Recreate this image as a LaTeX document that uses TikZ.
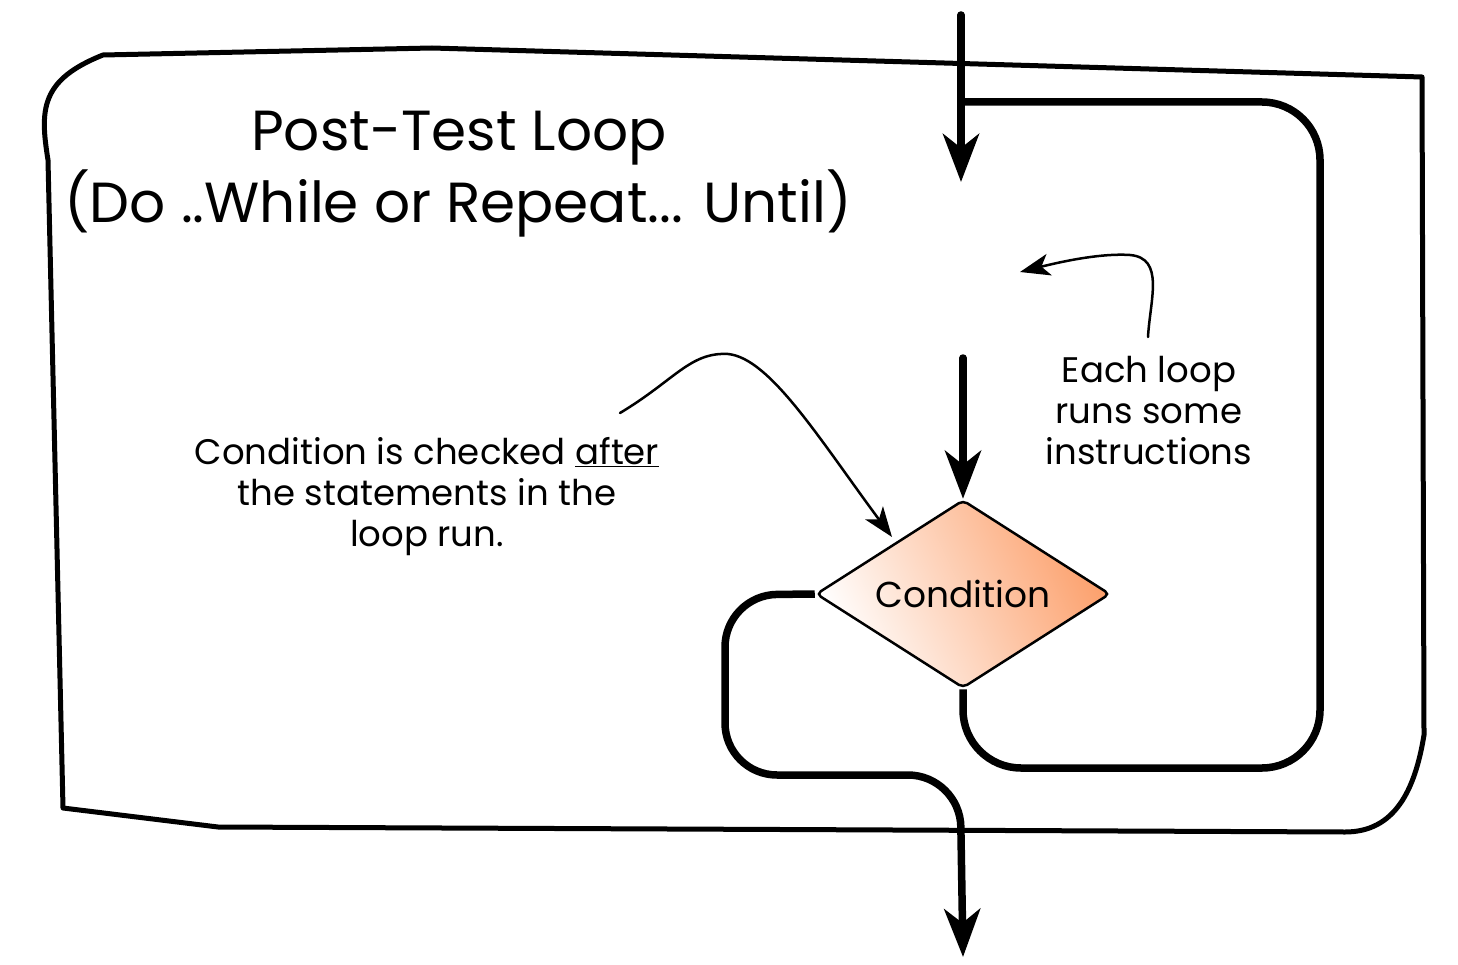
\documentclass[tikz,border=0pt]{standalone}
\usepackage{fontspec}
\setmainfont{Poppins}
\usetikzlibrary{arrows.meta,shapes.geometric}
\definecolor{condorange}{RGB}{252,160,108}
\tikzset{
  frame/.style={line width=5pt, line join=round, line cap=round},
  flow/.style={line width=7.5pt, line cap=round},
  bigarrow/.style={-{Stealth[length=48pt,width=36pt,inset=14pt]}},
  thinarrow/.style={line width=2.5pt, line cap=round, -{Stealth[length=30pt,width=22pt,inset=8pt]}},
  note/.style={font=\fontsize{35.5}{41}\selectfont, align=center},
  title/.style={font=\fontsize{56.5}{66}\selectfont, align=center},
  decision/.style={diamond, aspect=1.56, draw, line width=2.5pt, rounded corners=5pt,
    minimum width=294pt, minimum height=188pt, inner sep=0pt,
    left color=white, right color=condorange, shading angle=115,
    font=\fontsize{36}{40}\selectfont}
}
\begin{document}
\begin{tikzpicture}[x=1pt,y=-1pt]
\useasboundingbox (0,0) rectangle (1458,965);
% sketchy frame
\draw[frame] (103,55) -- (432,48) -- (1422,77) -- (1424,735)
  .. controls (1415,790) and (1395,832) .. (1345,832)
  -- (218,827) -- (63,808) -- (48,160)
  .. controls (40,110) and (40,80) .. (103,55) -- cycle;
% titles
\node[title] (t1) at (459,138) {Post-Test Loop};
\node[title] (t2) at (458,203) {(Do ..While or Repeat... Until)};
% decision
\node[decision] (cond) at (963,594) {Condition};
% coordinates
\coordinate (topin) at (961,15);
\coordinate (topend) at (961,182);
\coordinate (loopstart) at (961,102);
\coordinate (midstart) at (963,358);
\coordinate (exitend) at (963,957);
% main flow arrows
\draw[flow,bigarrow] (topin) -- (topend);
\draw[flow,line cap=butt,rounded corners=58pt] (loopstart) -- (1320,102) -- (1320,768) -- (963,768) -- (cond.south);
\draw[flow,bigarrow] (midstart) -- (cond.north);
\draw[flow,line cap=butt,rounded corners=52pt,bigarrow] (cond.west) -- (725,595) -- (725,775) -- (960,775) -- (exitend);
% notes
\node[note] (n1) at (427,497) {Condition is checked \underline{after}\\the statements in the\\loop run.};
\node[note] (n2) at (1149,411) {Each loop\\runs some\\instructions};
\coordinate (c1) at (620,413);
\coordinate (c1end) at (892,537);
\draw[thinarrow] (c1) .. controls (675,380) and (690,352) .. (728,354)
  .. controls (770,358) and (820,440) .. (c1end);
\coordinate (c2) at (1148,337);
\coordinate (c2end) at (1020,272);
\draw[thinarrow] (c2) .. controls (1150,300) and (1165,258) .. (1130,255)
  .. controls (1100,253) and (1060,262) .. (c2end);
\end{tikzpicture}
\end{document}
